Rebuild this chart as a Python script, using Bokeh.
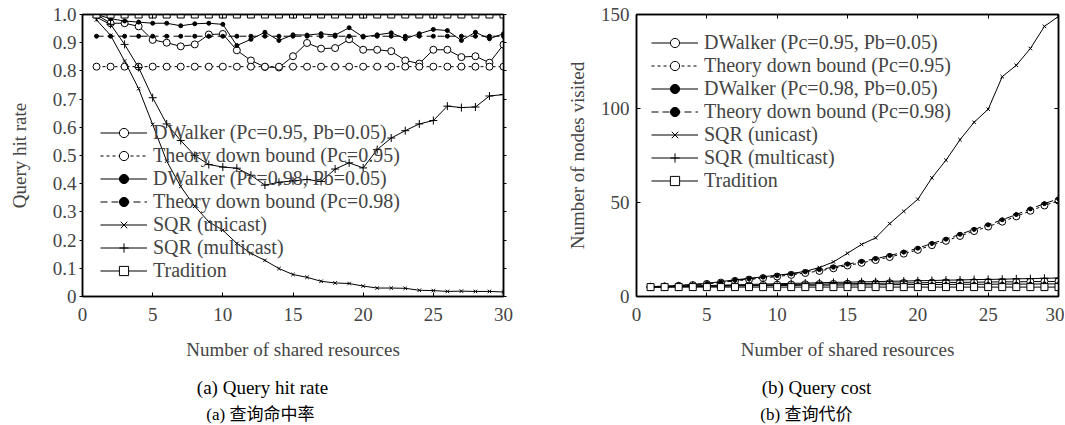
from bokeh.plotting import figure
from bokeh.models import (Range1d, LinearAxis, FixedTicker, CustomJSTickFormatter,
                          Legend, LegendItem)
from bokeh.core.properties import value
from bokeh.layouts import row, column
from bokeh.embed import file_html
from bokeh.resources import INLINE

# ---------------- data ----------------
shared = list(range(1, 31))

legend_labels = [
    "DWalker (Pc=0.95, Pb=0.05)",
    "Theory down bound (Pc=0.95)",
    "DWalker (Pc=0.98, Pb=0.05)",
    "Theory down bound (Pc=0.98)",
    "SQR (unicast)",
    "SQR (multicast)",
    "Tradition",
]

# (a) query hit rate
hit_dwalker_095 = [1.0, 0.969, 0.969, 0.958, 0.91, 0.9, 0.887, 0.894, 0.929, 0.931,
                   0.873, 0.837, 0.814, 0.812, 0.852, 0.899, 0.879, 0.881, 0.912, 0.875,
                   0.875, 0.87, 0.837, 0.826, 0.875, 0.875, 0.849, 0.852, 0.829, 0.893]
hit_theory_095 = [0.815, 0.815, 0.815, 0.815, 0.815, 0.815, 0.815, 0.815, 0.815, 0.815,
                  0.815, 0.815, 0.815, 0.815, 0.815, 0.815, 0.815, 0.815, 0.815, 0.815,
                  0.815, 0.815, 0.815, 0.815, 0.815, 0.815, 0.815, 0.815, 0.815, 0.815]
hit_dwalker_098 = [1.0, 0.985, 0.977, 0.973, 0.969, 0.969, 0.96, 0.967, 0.969, 0.965,
                   0.89, 0.912, 0.937, 0.908, 0.928, 0.927, 0.932, 0.927, 0.953, 0.92,
                   0.928, 0.935, 0.914, 0.932, 0.947, 0.943, 0.908, 0.937, 0.914, 0.932]
hit_theory_098 = [0.923, 0.923, 0.923, 0.923, 0.923, 0.923, 0.923, 0.923, 0.923, 0.923,
                  0.923, 0.923, 0.923, 0.923, 0.923, 0.923, 0.923, 0.923, 0.923, 0.923,
                  0.923, 0.923, 0.923, 0.923, 0.923, 0.923, 0.923, 0.923, 0.923, 0.923]
hit_sqr_uni = [0.981, 0.926, 0.835, 0.737, 0.61, 0.48, 0.39, 0.32, 0.265, 0.235,
               0.188, 0.153, 0.128, 0.099, 0.078, 0.068, 0.054, 0.048, 0.046, 0.037,
               0.03, 0.03, 0.029, 0.022, 0.021, 0.018, 0.019, 0.018, 0.018, 0.016]
hit_sqr_multi = [0.99, 0.965, 0.894, 0.812, 0.705, 0.612, 0.553, 0.5, 0.468, 0.459,
                 0.455, 0.43, 0.395, 0.405, 0.41, 0.415, 0.408, 0.452, 0.474, 0.456,
                 0.521, 0.562, 0.588, 0.612, 0.624, 0.675, 0.67, 0.672, 0.711, 0.716]
hit_tradition = [1.0, 1.0, 1.0, 1.0, 1.0, 1.0, 1.0, 1.0, 1.0, 1.0,
                 1.0, 1.0, 1.0, 1.0, 1.0, 1.0, 1.0, 1.0, 1.0, 1.0,
                 1.0, 1.0, 1.0, 1.0, 1.0, 1.0, 1.0, 1.0, 1.0, 1.0]

# (b) query cost
cost_dwalker_095 = [5.0, 5.1, 5.3, 5.4, 5.6, 5.7, 5.9, 6.0, 6.1, 6.3,
                    6.4, 6.5, 6.6, 6.7, 6.8, 6.9, 7.0, 7.1, 7.2, 7.3,
                    7.4, 7.5, 7.5, 7.6, 7.7, 7.8, 7.8, 7.9, 8.0, 8.0]
cost_theory_095 = [5.2, 5.4, 5.7, 6.1, 6.7, 7.4, 8.3, 9.0, 9.8, 10.6,
                   11.5, 12.5, 13.6, 15.0, 16.5, 17.9, 19.4, 21.0, 22.8, 24.8,
                   27.3, 29.6, 32.2, 34.8, 37.2, 39.8, 42.6, 45.6, 48.4, 51.0]
cost_dwalker_098 = [5.0, 5.1, 5.2, 5.3, 5.4, 5.5, 5.6, 5.7, 5.8, 5.8,
                    5.9, 6.0, 6.0, 6.1, 6.1, 6.2, 6.2, 6.3, 6.3, 6.4,
                    6.4, 6.4, 6.5, 6.5, 6.5, 6.6, 6.6, 6.6, 6.7, 6.7]
cost_theory_098 = [5.2, 5.4, 5.8, 6.2, 6.9, 7.6, 8.6, 9.4, 10.3, 11.1,
                   12.0, 13.1, 14.3, 15.6, 17.2, 18.6, 20.1, 21.8, 23.6, 25.7,
                   28.2, 30.5, 33.1, 35.7, 38.1, 40.8, 43.6, 46.6, 49.4, 52.0]
cost_sqr_uni = [5.3, 5.5, 5.9, 6.4, 7.0, 7.9, 8.9, 9.6, 10.5, 11.3,
                12.2, 13.4, 15.4, 18.4, 23.0, 27.7, 31.2, 38.8, 45.3, 51.7,
                63.1, 72.5, 83.4, 92.7, 99.6, 116.9, 123.0, 131.9, 143.7, 149.0]
cost_sqr_multi = [5.1, 5.2, 5.4, 5.6, 5.8, 6.0, 6.2, 6.4, 6.6, 6.8,
                  7.0, 7.1, 7.3, 7.5, 7.6, 7.8, 7.9, 8.1, 8.2, 8.4,
                  8.5, 8.7, 8.8, 9.0, 9.1, 9.2, 9.4, 9.5, 9.7, 9.8]
cost_tradition = [5.0, 5.0, 5.0, 5.0, 5.0, 5.0, 5.0, 5.0, 5.0, 5.0,
                  5.0, 5.0, 5.0, 5.0, 5.0, 5.0, 5.0, 5.0, 5.0, 5.0,
                  5.0, 5.0, 5.0, 5.0, 5.0, 5.0, 5.0, 5.0, 5.0, 5.0]

x_ticks = [0, 5, 10, 15, 20, 25, 30]
hit_ticks = [0, 0.1, 0.2, 0.3, 0.4, 0.5, 0.6, 0.7, 0.8, 0.9, 1.0]
cost_ticks = [0, 50, 100, 150]

captions_a = ["(a) Query hit rate", "(a)  查询命中率"]
captions_b = ["(b) Query cost", "(b)  查询代价"]

FONT = "Liberation Serif"
CJK = "Liberation Serif, Noto Sans CJK SC"
FS = "19px"
MAIN_H = 370
CAP_H = 55

# marker styles: (marker, size, fill, line_dash)
styles = [
    ("circle", 7, "white", "solid"),
    ("circle", 7, "white", "3 3"),
    ("circle", 4, "black", "solid"),
    ("circle", 4, "black", "7 4"),
    ("x", 5, "black", "solid"),
    ("cross", 8, "black", "solid"),
    ("square", 7, "white", "solid"),
]

blank = CustomJSTickFormatter(code="return '';")


def make_panel(series, y_end, y_ticks, y_label, width, b_left, b_right,
               legend_loc, y_tick_out, y_lab_standoff):
    p = figure(width=width, height=MAIN_H, output_backend="svg", toolbar_location=None,
               x_range=Range1d(0, 30), y_range=Range1d(0, y_end),
               min_border_left=b_left, min_border_right=b_right,
               min_border_top=14, min_border_bottom=MAIN_H - 296,
               background_fill_color="white", border_fill_color="white")
    p.grid.visible = False
    p.outline_line_color = "black"
    p.outline_line_width = 1.5

    items = []
    for vals, label, (mk, sz, fill, dash) in zip(series, legend_labels, styles):
        lr = p.line(shared, vals, line_color="black", line_width=1, line_dash=dash)
        sr = p.scatter(shared, vals, marker=mk, size=sz, line_color="black",
                       fill_color=fill, line_width=1)
        items.append(LegendItem(label=label, renderers=[lr, sr]))

    leg = Legend(items=items, location=legend_loc, padding=0, margin=0, spacing=0,
                 glyph_width=47, glyph_height=23, label_height=23, label_standoff=6,
                 border_line_alpha=0, background_fill_alpha=0,
                 label_text_font=FONT, label_text_font_size="20px")
    p.add_layout(leg, "center")

    # axes
    xa = p.xaxis[0]
    xa.ticker = FixedTicker(ticks=x_ticks)
    xa.axis_label = "Number of shared resources"
    ya = p.yaxis[0]
    ya.ticker = FixedTicker(ticks=y_ticks)
    ya.axis_label = y_label
    ya.formatter = CustomJSTickFormatter(
        code="return tick == 0 ? '0' : (Math.abs(tick) < 2 ? tick.toFixed(1) : tick.toFixed(0));")
    for ax in (xa, ya):
        ax.minor_tick_line_color = None
        ax.axis_line_width = 1.5
        ax.major_tick_line_width = 1
        ax.major_label_text_font = FONT
        ax.major_label_text_font_size = FS
        ax.axis_label_text_font = FONT
        ax.axis_label_text_font_size = FS
        ax.axis_label_text_font_style = "normal"
    xa.major_tick_in = 4
    xa.major_tick_out = 0
    xa.major_label_standoff = 11
    xa.axis_label_standoff = 15
    if y_tick_out:
        ya.major_tick_in = 0
        ya.major_tick_out = 3
        ya.major_label_standoff = 3
    else:
        ya.major_tick_in = 4
        ya.major_tick_out = 0
        ya.major_label_standoff = 7
    ya.axis_label_standoff = y_lab_standoff

    # mirrored axes (ticks only)
    top = LinearAxis(ticker=FixedTicker(ticks=x_ticks), formatter=blank,
                     major_label_text_font_size="0px",
                     major_tick_in=4, major_tick_out=0, minor_tick_line_color=None,
                     major_label_standoff=0, axis_line_width=1.5)
    p.add_layout(top, "above")
    right = LinearAxis(ticker=FixedTicker(ticks=y_ticks), formatter=blank,
                       major_label_text_font_size="0px",
                       major_tick_in=0 if y_tick_out else 4,
                       major_tick_out=3 if y_tick_out else 0,
                       minor_tick_line_color=None, major_label_standoff=0,
                       axis_line_width=1.5)
    p.add_layout(right, "right")
    return p


def make_caption(width, texts, cx1, cx2):
    c = figure(width=width, height=CAP_H, output_backend="svg", toolbar_location=None,
               x_range=Range1d(0, width), y_range=Range1d(0, CAP_H),
               x_axis_type=None, y_axis_type=None, min_border=0,
               background_fill_color="white", border_fill_color="white")
    c.grid.visible = False
    c.outline_line_color = None
    c.text(x=[cx1], y=[CAP_H - 17], text=[texts[0]], text_font=value(FONT),
           text_font_size=value(FS), text_align="center", text_baseline="middle",
           text_color="black")
    c.text(x=[cx2], y=[CAP_H - 44], text=[texts[1]], text_font=value(CJK),
           text_font_size=value("17px"), text_align="center", text_baseline="middle",
           text_color="black")
    return c


p1 = make_panel([hit_dwalker_095, hit_theory_095, hit_dwalker_098, hit_theory_098,
                 hit_sqr_uni, hit_sqr_multi, hit_tradition],
                1.0, hit_ticks, "Query hit rate",
                width=530, b_left=82, b_right=27,
                legend_loc=(18, 14), y_tick_out=True, y_lab_standoff=20)
p2 = make_panel([cost_dwalker_095, cost_theory_095, cost_dwalker_098, cost_theory_098,
                 cost_sqr_uni, cost_sqr_multi, cost_tradition],
                150, cost_ticks, "Number of nodes visited",
                width=534, b_left=106, b_right=6,
                legend_loc=(15, 104), y_tick_out=False, y_lab_standoff=10)
cap1 = make_caption(530, captions_a, 262, 262)
cap2 = make_caption(534, captions_b, 286, 278)

layout = column(row(p1, p2, spacing=0), row(cap1, cap2, spacing=0), spacing=0)
open("out.html", "w").write(file_html(layout, INLINE))
